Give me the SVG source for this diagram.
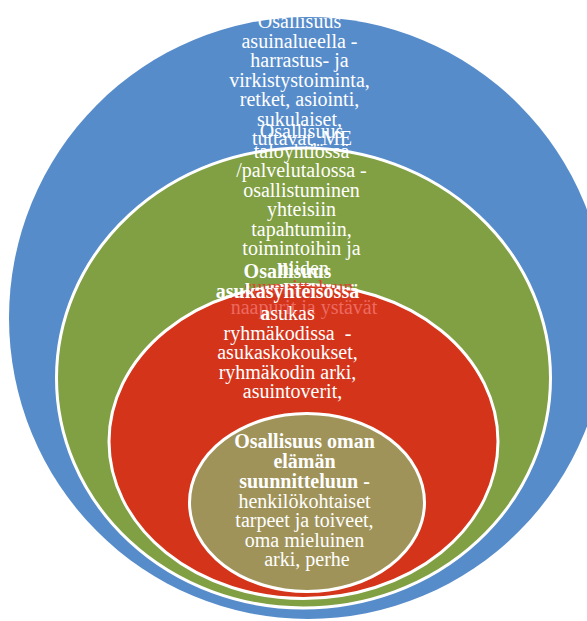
<svg xmlns="http://www.w3.org/2000/svg" width="587" height="621" viewBox="0 0 587 621">
  <style>
    .ring { stroke: #ffffff; stroke-width: 3; }
    .lbl { font-family: "Liberation Serif", "Times New Roman", serif; font-size: 20px; fill: #ffffff; text-anchor: middle; }
    .b { font-weight: bold; }
  </style>
  <rect width="587" height="621" fill="#ffffff"/>

  <!-- outermost level: residential area -->
  <g id="node-asuinalue">
    <ellipse cx="308" cy="318" rx="299" ry="301" fill="#578ccb"/>
    <text class="lbl" x="302">
      <tspan x="302" y="28">Osallisuus</tspan>
      <tspan x="302" y="47.5">asuinalueella -</tspan>
      <tspan x="302" y="67">harrastus- ja</tspan>
      <tspan x="302" y="86.5">virkistystoiminta,</tspan>
      <tspan x="302" y="106">retket, asiointi,</tspan>
      <tspan x="302" y="125.5">sukulaiset,</tspan>
      <tspan x="302" y="145">tuttavat, ME</tspan>
    </text>
  </g>

  <!-- housing company / service house -->
  <g id="node-taloyhtio">
    <ellipse class="ring" cx="303.5" cy="378" rx="247" ry="230" fill="#819f43"/>
    <text class="lbl">
      <tspan x="304" y="138">Osallisuus</tspan>
      <tspan x="304" y="157.5">taloyhtiössä</tspan>
      <tspan x="304" y="177">/palvelutalossa -</tspan>
      <tspan x="304" y="196.5">osallistuminen</tspan>
      <tspan x="304" y="216">yhteisiin</tspan>
      <tspan x="304" y="235.5">tapahtumiin,</tspan>
      <tspan x="304" y="255">toimintoihin ja</tspan>
      <tspan x="304" y="274.5">niiden</tspan>
    </text>
  </g>

  <!-- resident community -->
  <g id="node-asukasyhteiso">
    <ellipse class="ring" cx="303.5" cy="441.5" rx="194.5" ry="157" fill="#d4341a"/>
    <!-- lines of the housing-company label that run into this ring -->
    <text class="lbl">
      <tspan x="304" y="294" fill="#dc4631">suunnitteluun,</tspan>
      <tspan x="304" y="313.5" fill="#ec6a60">naapurit ja ystävät</tspan>
    </text>
    <text class="lbl" xml:space="preserve">
      <tspan class="b" x="305" y="278">Osallisuus</tspan>
      <tspan class="b" x="305" y="298">asukasyhteisössä</tspan>
      <tspan x="305" y="319.5"><tspan class="b">a</tspan>sukas</tspan>
      <tspan x="305" y="339.5">ryhmäkodissa  -</tspan>
      <tspan x="305" y="359">asukaskokoukset,</tspan>
      <tspan x="305" y="378.5">ryhmäkodin arki,</tspan>
      <tspan x="305" y="398">asuintoverit,</tspan>
    </text>
  </g>

  <!-- innermost level: own life -->
  <g id="node-oma-elama">
    <ellipse class="ring" cx="307" cy="502.5" rx="117.5" ry="89" fill="#a09359"/>
    <text class="lbl">
      <tspan class="b" x="307" y="448">Osallisuus oman</tspan>
      <tspan class="b" x="307" y="468">elämän</tspan>
      <tspan class="b" x="307" y="488">suunnitteluun -</tspan>
      <tspan x="307" y="507.5">henkilökohtaiset</tspan>
      <tspan x="307" y="527">tarpeet ja toiveet,</tspan>
      <tspan x="307" y="546.5">oma mieluinen</tspan>
      <tspan x="307" y="566">arki, perhe</tspan>
    </text>
  </g>

  <g id="connectors"/>
</svg>
